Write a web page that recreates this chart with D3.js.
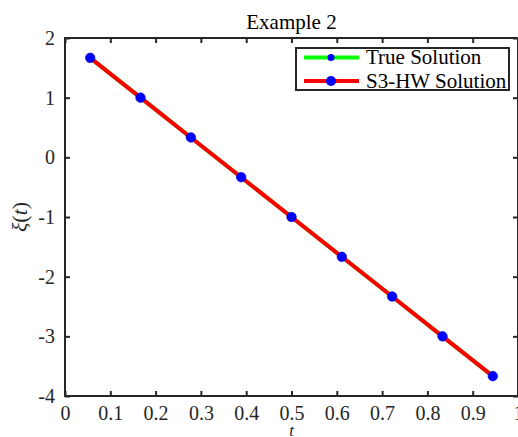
<!DOCTYPE html>
<html><head><meta charset="utf-8">
<script src="https://cdn.jsdelivr.net/npm/d3@7"></script>
<style>body{margin:0;background:#fff;} svg{display:block;}</style>
</head><body>
<svg id="c" width="518" height="437"></svg>
<script>
const tValues = [0.0556, 0.1667, 0.2778, 0.3889, 0.5, 0.6111, 0.7222, 0.8333, 0.9444];
const trueSolution = [1.667, 1.0, 0.333, -0.333, -1.0, -1.667, -2.333, -3.0, -3.667];
const s3hwSolution = [1.667, 1.0, 0.333, -0.333, -1.0, -1.667, -2.333, -3.0, -3.667];
const xTicks = [0, 0.1, 0.2, 0.3, 0.4, 0.5, 0.6, 0.7, 0.8, 0.9, 1];
const yTicks = [-4, -3, -2, -1, 0, 1, 2];
const seriesNames = ["True Solution", "S3-HW Solution"];

const svg = d3.select("#c");
const L = 65, R = 518, T = 38, B = 396;
const x = d3.scaleLinear().domain([0, 1]).range([L, R]);
const y = d3.scaleLinear().domain([-4, 2]).range([B, T]);
const font = "Liberation Serif, Times New Roman, serif";

const fmt = d => d === 0 ? "0" : String(d);
const gx = svg.append("g").attr("transform", `translate(0,${B})`)
  .call(d3.axisBottom(x).tickValues(xTicks).tickSizeInner(-5).tickSizeOuter(0).tickPadding(10).tickFormat(fmt));
const gxt = svg.append("g").attr("transform", `translate(0,${T})`)
  .call(d3.axisTop(x).tickValues(xTicks).tickSizeInner(-5).tickSizeOuter(0).tickFormat(""));
const gy = svg.append("g").attr("transform", `translate(${L},0)`)
  .call(d3.axisLeft(y).tickValues(yTicks).tickSizeInner(-5).tickSizeOuter(0).tickPadding(10).tickFormat(fmt));
const gyr = svg.append("g").attr("transform", `translate(${R},0)`)
  .call(d3.axisRight(y).tickValues(yTicks).tickSizeInner(-5).tickSizeOuter(0).tickFormat(""));
[gx, gxt, gy, gyr].forEach(g => {
  g.select(".domain").remove();
  g.selectAll(".tick line").attr("stroke", "#262626").attr("stroke-width", 2);
  g.selectAll("text").attr("font-family", font).attr("font-size", 20).attr("fill", "#262626");
});
gy.selectAll("text").attr("dy", "0.32em");

svg.append("rect").attr("x", L).attr("y", T).attr("width", R - L).attr("height", B - T)
  .attr("fill", "none").attr("stroke", "#262626").attr("stroke-width", 2);

const line = d3.line().x((d, i) => x(tValues[i])).y(d => y(d));
svg.append("path").datum(trueSolution).attr("d", line).attr("fill", "none")
  .attr("stroke", "#00ff00").attr("stroke-width", 4);
svg.append("path").datum(s3hwSolution).attr("d", line).attr("fill", "none")
  .attr("stroke", "#ff0000").attr("stroke-width", 4);
svg.append("g").selectAll("circle").data(s3hwSolution).join("circle")
  .attr("cx", (d, i) => x(tValues[i])).attr("cy", d => y(d)).attr("r", 4.8)
  .attr("fill", "#0000ff").attr("stroke", "#0000cc").attr("stroke-width", 0.6);
svg.append("g").selectAll("circle").data(trueSolution).join("circle")
  .attr("cx", (d, i) => x(tValues[i])).attr("cy", d => y(d)).attr("r", 3.2)
  .attr("fill", "#0000ff");

svg.append("text").attr("x", (L + R) / 2).attr("y", 29).attr("text-anchor", "middle")
  .attr("font-family", font).attr("font-size", 21).attr("fill", "#000").text("Example 2");
svg.append("text").attr("x", (L + R) / 2).attr("y", 436).attr("text-anchor", "middle")
  .attr("font-family", font).attr("font-size", 17).attr("font-style", "italic").attr("fill", "#262626").text("t");
const yl = svg.append("text").attr("transform", `translate(27,${(T + B) / 2}) rotate(-90)`)
  .attr("text-anchor", "middle").attr("font-family", font).attr("font-size", 22).attr("fill", "#262626");
yl.append("tspan").attr("font-style", "italic").text("ξ");
yl.append("tspan").text("(");
yl.append("tspan").attr("font-style", "italic").text("t");
yl.append("tspan").text(")");

const lx = 296, ly = 48, lw = 213, lh = 42;
svg.append("rect").attr("x", lx).attr("y", ly).attr("width", lw).attr("height", lh)
  .attr("fill", "#fff").attr("stroke", "#262626").attr("stroke-width", 2);
const legColors = ["#00ff00", "#ff0000"];
const legR = [3.5, 5];
seriesNames.forEach((name, i) => {
  const cy = ly + 9.5 + i * 23.5;
  svg.append("line").attr("x1", lx + 8).attr("x2", lx + 63).attr("y1", cy).attr("y2", cy)
    .attr("stroke", legColors[i]).attr("stroke-width", 4);
  svg.append("circle").attr("cx", lx + 35).attr("cy", cy).attr("r", legR[i]).attr("fill", "#0000ff");
  svg.append("text").attr("x", lx + 70).attr("y", cy + 6.5).attr("font-family", font)
    .attr("font-size", 21).attr("fill", "#000").text(name);
});
</script>
</body></html>
